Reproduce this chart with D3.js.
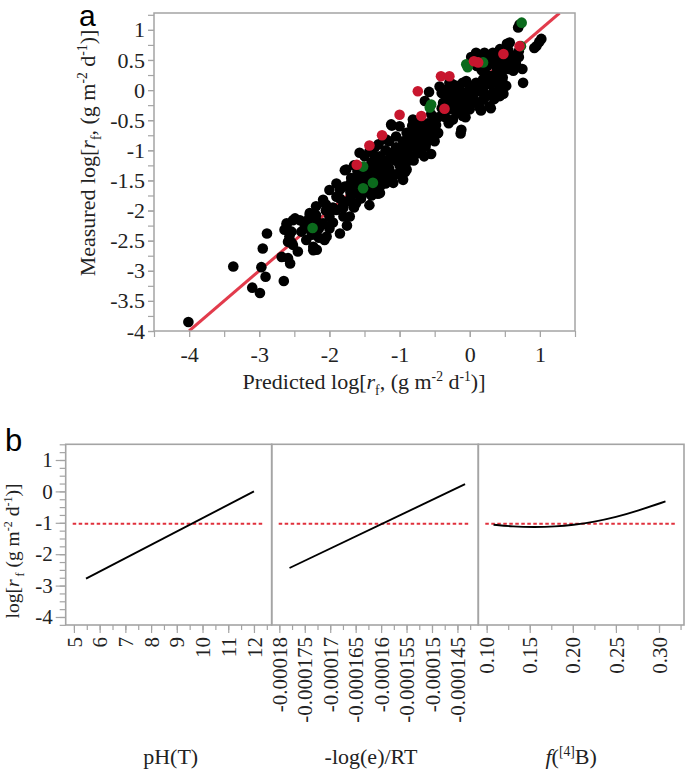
<!DOCTYPE html>
<html><head><meta charset="utf-8">
<script src="https://cdn.jsdelivr.net/npm/d3@7"></script>
<style>body{margin:0;background:#fff} svg text{font-family:'Liberation Serif','Times New Roman',serif}</style>
</head><body><svg id="c" width="685" height="770"></svg>
<script>
// ---------- DATA ----------
// Panel a: [predicted, measured]
const blackPts = [
[-4.01,-3.85],[-3.37,-2.93],[-2.89,-2.38],[-2.95,-2.63],[-2.97,-2.94],[-2.91,-3.10],[-3.10,-3.28],[-2.99,-3.37],
[-2.65,-3.17],[-2.61,-2.24],[-2.49,-2.13],[-2.54,-2.35],[-2.59,-2.52],[-2.54,-2.53],[-2.68,-2.77],[-2.59,-2.79],
[-2.56,-2.88],[-2.45,-2.68],[-2.23,-2.66],[-2.18,-2.65],[-2.28,-2.07],[-2.19,-2.08],[-2.07,-2.49],[-2.11,-2.23],
[-2.42,-2.16],[-2.52,-2.16],[-2.61,-2.21],[-2.64,-2.32],[-2.57,-2.43],[-2.52,-2.57],[-2.19,-2.16],[-2.09,-2.21],
[-2.00,-2.10],[-1.90,-1.99],[-1.81,-1.93],[-1.71,-2.10],[-1.62,-1.88],[-1.43,-1.91],[-1.28,-1.71],[-1.85,-2.38],
[-2.04,-2.43],[-2.23,-2.60],[-2.33,-2.49],[-2.28,-2.04],[-2.19,-1.93],[-2.09,-1.82],[-2.00,-1.66],[-1.90,-1.77],
[-1.78,-1.60],[-1.62,-1.71],[-1.28,-1.60],[-1.09,-1.54],[-0.95,-1.49],[-0.90,-1.32],[-1.19,-1.27],[-1.33,-1.32],
[-1.47,-1.38],[-1.69,-1.46],[-1.76,-1.32],[-1.57,-1.04],[-1.43,-1.02],[-1.28,-1.10],[-1.14,-1.04],[-1.00,-0.99],
[-0.83,-0.88],[-0.90,-0.71],[-1.05,-0.77],[-1.19,-0.82],[-1.12,-0.57],[-1.05,-1.16],[-1.78,-1.33],[-1.55,-1.62],
[-1.38,-1.59],[-1.36,-1.39],[-1.31,-1.72],[-1.19,-1.44],[-1.11,-0.59],[-1.06,-1.17],[-0.99,-1.36],[-0.92,-1.36],
[-0.94,-1.11],[-0.89,-1.00],[-0.84,-0.80],[-0.82,-0.59],[-0.80,-1.17],[-0.75,-0.94],[-0.70,-0.83],[-0.65,-0.69],
[-0.63,-0.94],[-0.58,-0.03],[-0.64,-0.18],[-0.55,-1.06],[-0.51,-0.64],[-0.46,-0.72],[-0.81,-0.49],[-0.71,-0.54],
[-0.62,-0.60],[-0.52,-0.71],[-0.45,-0.71],[-0.76,-0.71],[-0.86,-0.82],[-0.71,-0.82],[-0.62,-0.88],[-0.79,-0.93],
[-0.29,0.12],[-0.19,0.07],[-0.10,0.12],[0.00,0.07],[0.09,0.12],[0.19,0.18],[0.28,0.21],[0.38,0.23],
[0.47,0.21],[0.52,0.07],[0.43,0.00],[0.33,-0.04],[0.24,-0.10],[0.14,-0.02],[0.05,-0.04],[-0.05,-0.04],
[-0.15,-0.10],[-0.24,-0.16],[-0.33,-0.10],[-0.38,-0.21],[-0.29,-0.32],[-0.19,-0.38],[-0.10,-0.43],[0.00,-0.32],
[0.14,-0.29],[0.28,-0.27],[0.19,-0.16],[0.05,-0.21],[-0.07,-0.24],[-0.24,-0.49],[-0.12,-0.66],[-0.38,-0.38],
[-0.33,0.01],[-0.43,0.06],[0.43,-0.10],[0.71,1.09],[0.69,1.04],[1.02,0.85],[0.95,0.73],[0.57,0.79],
[0.43,0.68],[0.52,0.62],[0.64,0.57],[0.66,0.43],[0.76,0.12],[0.38,0.51],[0.47,0.46],[0.28,0.57],
[0.33,0.62],[0.21,0.62],[0.09,0.62],[0.19,0.46],[0.17,0.33],[0.55,0.35],[0.62,0.32],[0.25,0.40],
[0.16,-0.34],[0.48,-0.06],[-0.13,-0.72],[-0.06,-0.45],[0.92,0.70],[0.99,0.80],[-1.30,-0.90],[-1.25,-1.20],
[-1.15,-1.30],[-1.00,-1.25],[-0.85,-1.10],[-1.40,-1.20],[-1.50,-1.40],[-1.60,-1.50],[-1.70,-1.70],[-1.85,-1.80],
[-1.95,-1.95],[-2.05,-2.00],[-2.15,-2.30],[-2.30,-2.30],[-1.75,-1.85],[-1.55,-1.80],[-1.45,-1.50],[-1.20,-1.55],
[-1.05,-1.40],[-0.95,-1.20],[-0.75,-1.05],[-0.60,-0.80],[-0.50,-0.50],[-0.40,-0.30],[-0.20,-0.20],[-0.10,-0.10],
[0.10,0.00],[0.30,0.10],[0.40,0.35],[0.60,0.50],[-1.65,-1.25],[-1.45,-1.70],[-0.70,-0.65],[-0.55,-0.40],
[-1.90,-1.55],[-2.35,-2.25],[-2.00,-2.30],[-1.80,-2.10],[-1.35,-0.95],[-1.15,-0.85],[-1.00,-0.60],[-0.90,-0.95],
[-0.20,0.05],[0.02,0.55],[0.12,0.50],[0.55,0.55],[0.70,0.65],[0.35,0.45],[-0.30,-0.05],[-1.50,-1.10],
[-1.35,-1.45],[-1.25,-1.35],[-1.10,-1.10],[-0.95,-0.85],[-0.80,-0.70],[-0.70,-1.00],[-1.60,-1.60],[-1.70,-1.55],
[-1.40,-1.75],[-0.35,-0.20],[-0.25,-0.05],[-0.15,-0.25],[0.05,-0.10],[0.20,0.05],[0.35,-0.15],[-0.45,-0.45],
[-0.30,-0.55],[0.25,0.25],[0.45,0.55],[0.53,0.77],[0.55,0.66],[0.38,0.38],[0.48,0.10],[0.65,0.38],
[-2.40,-2.35],[-2.30,-2.15],[-2.25,-2.40],[-2.15,-2.45],[-2.05,-1.90],[-1.95,-2.20],[-1.85,-1.65],[-1.80,-1.95],
[-1.75,-2.25],[-1.70,-1.80],[-1.65,-1.95],[-1.60,-1.35],[-1.55,-1.50],[-1.50,-1.65],[-1.45,-1.30],[-1.40,-1.45],
[-1.35,-1.10],[-1.30,-1.25],[-1.25,-1.50],[-1.20,-1.00],[-1.15,-1.15],[-1.10,-1.40],[-1.05,-0.95],[-1.00,-1.10],
[-0.95,-1.00],[-0.90,-1.20],[-0.85,-0.95],[-0.80,-0.85],[-0.75,-0.60],[-0.70,-0.75],[-0.65,-1.10],[-0.60,-0.55],
[-0.55,-0.70],[-0.50,-0.85],[-0.48,-0.58],[-0.40,-0.05],[-0.35,-0.45],[-0.30,-0.20],[-0.25,0.10],[-0.20,-0.30],
[-0.15,0.00],[-0.10,-0.30],[-0.05,0.15],[0.00,-0.15],[0.05,0.05],[0.10,-0.20],[0.15,0.10],[0.20,-0.05],
[0.25,0.10],[0.30,-0.30],[0.35,0.25],[0.40,0.10],[0.45,0.30],[0.50,0.40],[0.10,0.40],[0.15,0.57],
[0.30,0.50],[0.40,0.60],[0.60,0.45],[0.70,0.55],[0.75,0.35]
];
const greenPts = [
[-0.05,0.43],[-0.03,0.38],[0.19,0.46],[-0.57,-0.29],[-0.55,-0.24],[-1.52,-1.27],[-1.38,-1.54],[-1.52,-1.63],
[-2.24,-2.29],[0.74,1.12],[0.73,0.73]
];
const redPts = [
[-0.41,0.23],[-0.29,0.23],[-0.74,-0.02],[-1.00,-0.41],[-0.69,-0.43],[-1.43,-0.92],[-1.25,-0.75],[-1.61,-1.24],
[0.12,0.46],[0.06,0.48],[0.71,0.73],[0.48,0.60],[-0.36,-0.31]
];
const fitLine = [[-4,-4],[1.28,1.28]];
const aXTicks = [-4,-3,-2,-1,0,1];
const aYTicks = [1,0.5,0,-0.5,-1,-1.5,-2,-2.5,-3,-3.5,-4];
const aYTickLabels = ["1","0.5","0","-0.5","-1","-1.5","-2","-2.5","-3","-3.5","-4"];

// Panel b: prediction profiler
const bYTicks = [1,0,-1,-2,-3,-4];
const phTicks = [5,6,7,8,9,10,11,12];
const rtTicks = [-0.00018,-0.000175,-0.00017,-0.000165,-0.00016,-0.000155,-0.00015,-0.000145];
const rtTickLabels = ["-0.00018","-0.000175","-0.00017","-0.000165","-0.00016","-0.000155","-0.00015","-0.000145"];
const fbTicks = [0.10,0.15,0.20,0.25,0.30];
const fbTickLabels = ["0.10","0.15","0.20","0.25","0.30"];
const phLine = [[5.47,-2.78],[12.0,0.0]];
const rtLine = [[-0.000178,-2.44],[-0.0001435,0.23]];
const fbCurve = [[0.108,-1.06],[0.13,-1.12],[0.155,-1.14],[0.18,-1.12],[0.20,-1.07],[0.225,-0.97],[0.25,-0.82],[0.275,-0.62],[0.3075,-0.32]];
const meanLevel = -1.03;

// ---------- DRAW ----------
const svg = d3.select("#c");
const SERIF = "'Liberation Serif','Times New Roman',serif";
const SANS = "'Liberation Sans',Arial,sans-serif";
const GRAY = "#a4a4a4";

function rich(t, parts, S) {
  let shift = 0;
  parts.forEach(p => {
    const ts = t.append("tspan").text(p.t);
    const target = p.sup ? -0.38*S : p.sub ? 0.25*S : 0;
    ts.attr("dy", target - shift); shift = target;
    if (p.dx) ts.attr("dx", p.dx);
    if (p.sup || p.sub) ts.attr("font-size", 0.62*S);
    if (p.it) ts.attr("font-style", "italic");
  });
}
function styleAxis(g, fs) {
  g.select(".domain").remove();
  g.attr("font-family", SERIF).attr("font-size", fs);
  g.selectAll(".tick line").attr("stroke", GRAY).attr("stroke-width", 1.2);
  g.selectAll(".tick text").style("font-family", SERIF).style("font-size", fs + "px").attr("fill", "#222");
}

// ===== Panel a =====
const ax = d3.scaleLinear([-4.5, 1.5], [154, 575]);
const ay = d3.scaleLinear([-4, 1.28], [331, 13]);

svg.append("text").attr("x", 79).attr("y", 26).style("font-family", SANS).attr("font-size", 30).text("a");

svg.append("defs").append("clipPath").attr("id", "clipA")
  .append("rect").attr("x", 154).attr("y", 13).attr("width", 421).attr("height", 318);

const gxm = svg.append("g").attr("transform", "translate(0,331)")
  .call(d3.axisBottom(ax).tickValues(d3.range(-4.5, 1.51, 0.5)).tickSize(6).tickFormat(""));
styleAxis(gxm, 22);
const gx = svg.append("g").attr("transform", "translate(0,331)")
  .call(d3.axisBottom(ax).tickValues(aXTicks).tickSize(6).tickPadding(9).tickFormat(d => String(d)));
styleAxis(gx, 22);
const gym = svg.append("g").attr("transform", "translate(154,0)")
  .call(d3.axisLeft(ay).tickValues(d3.range(-4, 1.26, 0.25)).tickSize(6).tickFormat(""));
styleAxis(gym, 22);
const gy = svg.append("g").attr("transform", "translate(154,0)")
  .call(d3.axisLeft(ay).tickValues(aYTicks).tickSize(6).tickPadding(3).tickFormat((d, i) => aYTickLabels[i]));
styleAxis(gy, 22);

const plotA = svg.append("g").attr("clip-path", "url(#clipA)");
plotA.append("path").datum(fitLine)
  .attr("d", d3.line().x(d => ax(d[0])).y(d => ay(d[1])))
  .attr("stroke", "#e23b4c").attr("stroke-width", 3).attr("fill", "none");
const R = 5.3;
plotA.selectAll("circle.k").data(blackPts).join("circle").attr("class", "k")
  .attr("cx", d => ax(d[0])).attr("cy", d => ay(d[1])).attr("r", R).attr("fill", "#000");
plotA.selectAll("circle.g").data(greenPts).join("circle").attr("class", "g")
  .attr("cx", d => ax(d[0])).attr("cy", d => ay(d[1])).attr("r", R).attr("fill", "#0b6a1c");
plotA.selectAll("circle.r").data(redPts).join("circle").attr("class", "r")
  .attr("cx", d => ax(d[0])).attr("cy", d => ay(d[1])).attr("r", R).attr("fill", "#c8162e");

svg.append("rect").attr("x", 154).attr("y", 13).attr("width", 421).attr("height", 318)
  .attr("fill", "none").attr("stroke", GRAY).attr("stroke-width", 1.5);

const xtA = svg.append("text").attr("x", 364).attr("y", 389).attr("text-anchor", "middle")
  .attr("font-size", 22).attr("fill", "#222");
rich(xtA, [{t:"Predicted log["},{t:"r",it:true},{t:"f",sub:true},{t:", (g m"},{t:"-2",sup:true},{t:" d"},{t:"-1",sup:true},{t:")]"}], 22);
const ytA = svg.append("text").attr("transform", "translate(95,153) rotate(-90)").attr("text-anchor", "middle")
  .attr("font-size", 22).attr("fill", "#222");
rich(ytA, [{t:"Measured log["},{t:"r",it:true},{t:"f",sub:true},{t:", (g m"},{t:"-2",sup:true},{t:" d"},{t:"-1",sup:true},{t:")]"}], 22);

// ===== Panel b =====
svg.append("text").attr("x", 5).attr("y", 451).style("font-family", SANS).attr("font-size", 31).text("b");
const bTop = 444.3, bBot = 625;
const by = d3.scaleLinear([-4.255, 1.5], [bBot, bTop]);
const panels = [
  {x0: 65.7, x1: 271.7, dom: [4.68, 12.69], ticks: phTicks, labels: phTicks.map(String), minor: 0.5, line: phLine, curve: d3.curveLinear, title: [{t:"pH(T)"}], off: 2},
  {x0: 271.7, x1: 478.3, dom: [-0.0001815, -0.0001409], ticks: rtTicks, labels: rtTickLabels, minor: 0.0000025, line: rtLine, curve: d3.curveLinear, title: [{t:"-log(e)/RT"}], off: -4},
  {x0: 478.3, x1: 684, dom: [0.0903, 0.329], ticks: fbTicks, labels: fbTickLabels, minor: 0.025, line: fbCurve, curve: d3.curveBasis, title: [{t:"f",it:true},{t:"("},{t:"[4]",sup:true},{t:"B)"}], off: -10}
];

const bym = svg.append("g").attr("transform", "translate(65.7,0)")
  .call(d3.axisLeft(by).tickValues(d3.range(-4.25, 1.51, 0.25)).tickSize(6).tickFormat(""));
styleAxis(bym, 21);
const byg = svg.append("g").attr("transform", "translate(65.7,0)")
  .call(d3.axisLeft(by).tickValues(bYTicks).tickSize(10).tickPadding(3).tickFormat(d => String(d)));
styleAxis(byg, 21);

panels.forEach((p, i) => {
  const sx = d3.scaleLinear(p.dom, [p.x0, p.x1]);
  const first = Math.ceil(p.dom[0] / p.minor - 1e-9);
  const last = Math.floor(p.dom[1] / p.minor + 1e-9);
  const minors = d3.range(first, last + 1).map(k => k * p.minor);
  const gm = svg.append("g").attr("transform", `translate(0,${bBot})`)
    .call(d3.axisBottom(sx).tickValues(minors).tickSize(5).tickFormat(""));
  styleAxis(gm, 21);
  const g = svg.append("g").attr("transform", `translate(0,${bBot})`)
    .call(d3.axisBottom(sx).tickValues(p.ticks).tickSize(8).tickFormat((d, j) => p.labels[j]));
  styleAxis(g, 21);
  g.selectAll(".tick text").attr("transform", "rotate(-90)").attr("text-anchor", "end")
    .attr("x", -12).attr("y", 0).attr("dy", "0.34em");

  svg.append("line").attr("x1", p.x0 + 7).attr("x2", p.x1 - 9)
    .attr("y1", by(meanLevel)).attr("y2", by(meanLevel))
    .attr("stroke", "#e0303c").attr("stroke-width", 1.8).attr("stroke-dasharray", "3.5,2.5");
  svg.append("path").datum(p.line)
    .attr("d", d3.line().x(d => sx(d[0])).y(d => by(d[1])).curve(p.curve))
    .attr("stroke", "#000").attr("stroke-width", 1.9).attr("fill", "none");

  svg.append("rect").attr("x", p.x0).attr("y", bTop).attr("width", p.x1 - p.x0).attr("height", bBot - bTop)
    .attr("fill", "none").attr("stroke", GRAY).attr("stroke-width", 1.6);

  const tt = svg.append("text").attr("x", (p.x0 + p.x1) / 2 + p.off).attr("y", 764)
    .attr("text-anchor", "middle").attr("font-size", 22).attr("fill", "#222");
  rich(tt, p.title, 22);
});

const ytB = svg.append("text").attr("transform", "translate(19,551) rotate(-90)").attr("text-anchor", "middle")
  .attr("font-size", 19.5).attr("fill", "#222");
rich(ytB, [{t:"log["},{t:"r",it:true},{t:"f",sub:true,dx:3},{t:" (g m"},{t:"-2",sup:true},{t:" d"},{t:"-1",sup:true},{t:")]"}], 19.5);
</script></body></html>
